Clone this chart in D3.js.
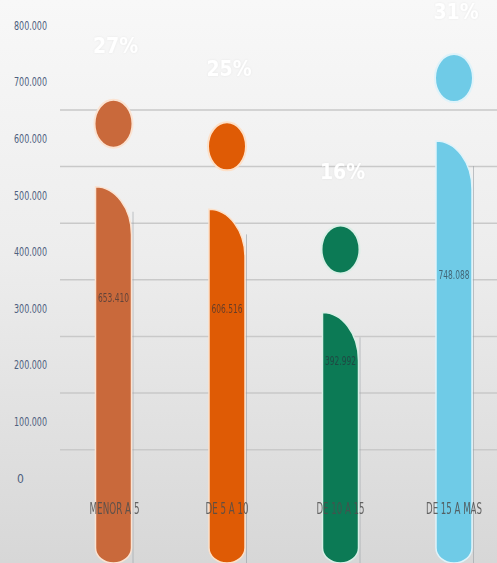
<!DOCTYPE html>
<html>
<head>
<meta charset="utf-8">
<script src="https://cdn.jsdelivr.net/npm/d3@7"></script>
<style>
  html, body { margin: 0; padding: 0; background: #f4f4f4; }
  svg { display: block; }
</style>
</head>
<body>
<svg id="chart" width="497" height="563"></svg>
<script>
// ---- data ----
const categories = ["MENOR A 5", "DE 5 A 10", "DE 10 A 15", "DE 15 A MAS"];
const values = [653410, 606516, 392992, 748088];
const valueLabels = ["653.410", "606.516", "392.992", "748.088"];
const percentLabels = ["27%", "25%", "16%", "31%"];
const barColors = ["#c9693b", "#df5b05", "#0c7a55", "#6fcbe7"];
const haloColors = ["#fbe3d2", "#fde0c8", "#d9efe6", "#dff3fa"];
const tickValues = [0, 100000, 200000, 300000, 400000, 500000, 600000, 700000, 800000];
const tickLabels = ["0", "100.000", "200.000", "300.000", "400.000", "500.000", "600.000", "700.000", "800.000"];
const gridValues = [50000, 150000, 250000, 350000, 450000, 550000, 650000];

const W = 497, H = 563;
const svg = d3.select("#chart");
const defs = svg.append("defs");

const grad = defs.append("linearGradient").attr("id", "bg").attr("x1", 0).attr("y1", 0).attr("x2", 0).attr("y2", 1);
grad.append("stop").attr("offset", "0%").attr("stop-color", "#f8f8f8");
grad.append("stop").attr("offset", "45%").attr("stop-color", "#ededed");
grad.append("stop").attr("offset", "100%").attr("stop-color", "#d7d7d7");

const glow = defs.append("filter").attr("id", "glow").attr("x", "-30%").attr("y", "-30%").attr("width", "160%").attr("height", "160%");
glow.append("feDropShadow").attr("dx", 0).attr("dy", 0).attr("stdDeviation", 1).attr("flood-color", "#d0d0d0").attr("flood-opacity", 0.4);

svg.append("rect").attr("width", W).attr("height", H).attr("fill", "url(#bg)");

// ---- scales ----
const yAxisScale = d3.scaleLinear().domain([0, 800000]).range([478, 25]);
const markScale = d3.scaleLinear().domain([0, 800000]).range([502, 116]);
const x = d3.scalePoint().domain(categories).range([113.5, 454]);
const barW = 36, stemCurve = 48, bottomY = 563, dotGap = 63;

// ---- grid lines ----
svg.append("g").selectAll("line").data(gridValues).join("line")
  .attr("x1", 60).attr("x2", W)
  .attr("y1", d => yAxisScale(d)).attr("y2", d => yAxisScale(d))
  .attr("stroke", "#c9c9c9").attr("stroke-width", 1.4);

// ---- y axis labels ----
const yAxis = d3.axisLeft(yAxisScale).tickValues(tickValues)
  .tickFormat((d, i) => tickLabels[i]).tickSize(0).tickPadding(0);
const ag = svg.append("g").attr("transform", "translate(14,0)").call(yAxis);
ag.select(".domain").remove();
ag.selectAll("text")
  .attr("text-anchor", "start").attr("x", d => d === 0 ? 3 : 0).attr("dy", "0.35em")
  .attr("font-family", "'Liberation Sans Narrow','DejaVu Sans Condensed','Roboto',sans-serif")
  .attr("font-size", 12).attr("fill", "#4e5f7e")
  .each(function(d) { if (d !== 0) d3.select(this).attr("textLength", 33).attr("lengthAdjust", "spacingAndGlyphs"); });

// ---- bars ("i" shapes) ----
const data = categories.map((c, i) => ({ c, v: values[i], i }));

function stemPath(d) {
  const cx = x(d.c), l = cx - barW / 2, r = cx + barW / 2, t = markScale(d.v);
  const br = 15;
  return `M${l},${bottomY - br} L${l},${t} A${barW},${stemCurve} 0 0 1 ${r},${t + stemCurve}` +
         ` L${r},${bottomY - br} A${barW / 2},${br} 0 0 1 ${l},${bottomY - br} Z`;
}

const bars = svg.append("g");
bars.selectAll("line.side").data(data).join("line").attr("class", "side")
  .attr("x1", d => x(d.c) + barW / 2 + 1.5).attr("x2", d => x(d.c) + barW / 2 + 1.5)
  .attr("y1", d => markScale(d.v) + 25).attr("y2", bottomY)
  .attr("stroke", "#9aa0a6").attr("stroke-width", 1).attr("opacity", 0.6);

bars.selectAll("path.stem").data(data).join("path").attr("class", "stem")
  .attr("d", stemPath)
  .attr("fill", d => barColors[d.i])
  .attr("stroke", d => haloColors[d.i]).attr("stroke-width", 1.5);

bars.selectAll("ellipse.dot").data(data).join("ellipse").attr("class", "dot")
  .attr("cx", d => x(d.c)).attr("cy", d => markScale(d.v) - dotGap)
  .attr("rx", 19).attr("ry", 24)
  .attr("fill", d => barColors[d.i])
  .attr("stroke", d => haloColors[d.i]).attr("stroke-width", 2);

// ---- percentage labels ----
svg.append("g").selectAll("text").data(data).join("text")
  .attr("x", d => x(d.c) + 2).attr("y", d => Math.max(12, markScale(d.v) - dotGap - 78))
  .attr("dy", "0.35em").attr("text-anchor", "middle")
  .attr("font-family", "'Liberation Sans Narrow','DejaVu Sans Condensed','Roboto',sans-serif")
  .attr("font-size", 21).attr("font-weight", "bold").attr("fill", "#ffffff")
  .attr("filter", "url(#glow)")
  .text(d => percentLabels[d.i]);

// ---- value labels ----
svg.append("g").selectAll("text").data(data).join("text")
  .attr("x", d => x(d.c)).attr("y", d => (markScale(d.v) + yAxisScale(0)) / 2 - 35)
  .attr("dy", "0.35em").attr("text-anchor", "middle")
  .attr("font-family", "'Liberation Sans Narrow','DejaVu Sans Condensed','Roboto',sans-serif")
  .attr("font-size", 13).attr("fill", "#2a2f3a").attr("opacity", 0.65)
  .attr("textLength", 31).attr("lengthAdjust", "spacingAndGlyphs")
  .text(d => valueLabels[d.i]);

// ---- category labels ----
const catWidths = [50, 43, 48, 56];
svg.append("g").selectAll("text").data(data).join("text")
  .attr("x", d => x(d.c) + (d.i === 0 ? 1 : 0)).attr("y", 508)
  .attr("dy", "0.35em").attr("text-anchor", "middle")
  .attr("font-family", "'Liberation Sans Narrow','DejaVu Sans Condensed','Roboto',sans-serif")
  .attr("font-size", 16).attr("fill", "#4d4d4d").attr("opacity", 0.85)
  .attr("textLength", d => catWidths[d.i]).attr("lengthAdjust", "spacingAndGlyphs")
  .text(d => d.c);
</script>
</body>
</html>
